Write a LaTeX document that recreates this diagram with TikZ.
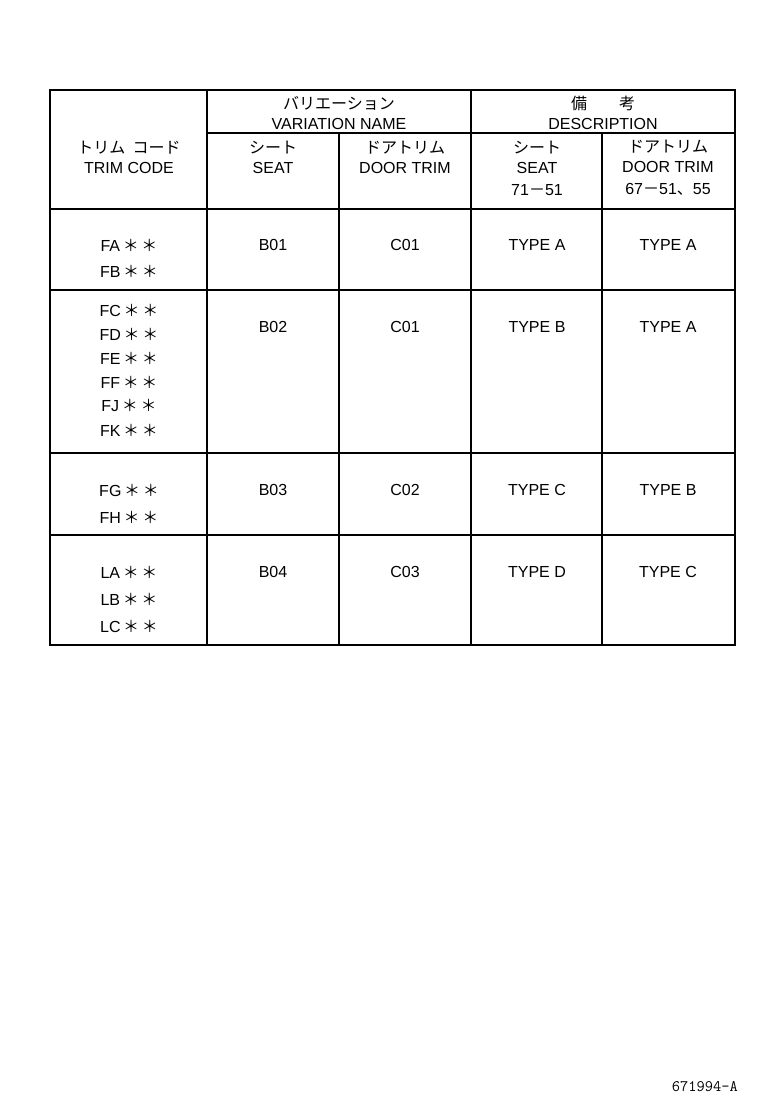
\documentclass[tikz,border=0pt]{standalone}
\usepackage{fontspec}
\setmainfont{Liberation Sans}
\newfontfamily\cjk{Noto Sans CJK JP}
\newcommand{\st}{\,{\cjk ＊}\,{\cjk ＊}}
\begin{document}
\begin{tikzpicture}[x=1pt,y=-1pt,
    rule/.style={line width=1.5pt},
    cell/.style={font=\fontsize{16}{20}\selectfont, align=center, inner sep=0pt}
]
\useasboundingbox (0,0) rectangle (760,1112);
% frame and grid
\draw[rule] (50,90) rectangle (735,645);
\foreach \x in {207,471} \draw[rule] (\x,90) -- (\x,645);
\foreach \x in {339,602} \draw[rule] (\x,133) -- (\x,645);
\draw[rule] (207,133) -- (735,133);
\foreach \y in {209,290,453,535} \draw[rule] (50,\y) -- (735,\y);
% header
\node[cell] (trim) at (129,157) {{\cjk トリム\ \ コード}\\TRIM CODE};
\node[cell] (var) at (339,113) {{\cjk バリエーション}\\VARIATION NAME};
\node[cell] (desc) at (603,113) {{\cjk 備\quad\quad 考}\\DESCRIPTION};
\node[cell] (hseat) at (273,157) {{\cjk シート}\\SEAT};
\node[cell] (hdoor) at (405,157) {{\cjk ドアトリム}\\DOOR TRIM};
\node[cell] (dseat) at (537,168) {{\cjk シート}\\SEAT\\[2pt]71{\cjk －}51};
\node[cell] (ddoor) at (668,168) {{\cjk ドアトリム}\\DOOR TRIM\\[2pt]67{\cjk －}51{\cjk 、}55};
% trim codes
\foreach \t/\y in {FA/245, FB/271, FC/310, FD/334, FE/358, FF/382, FJ/405, FK/430,
    FG/490, FH/517, LA/572, LB/599, LC/626}
  \node[cell] (code\t) at (129,\y) {\t\st};
\foreach \y/\a/\b/\c/\d in {245/B01/C01/TYPE A/TYPE A, 327/B02/C01/TYPE B/TYPE A, 490/B03/C02/TYPE C/TYPE B, 572/B04/C03/TYPE D/TYPE C}{
  \node[cell] at (273,\y) {\a};
  \node[cell] at (405,\y) {\b};
  \node[cell] at (537,\y) {\c};
  \node[cell] at (668,\y) {\d};
}
\node[cell, anchor=east] (code) at (738,1087) {\ttfamily 671994-A};
\end{tikzpicture}
\end{document}
